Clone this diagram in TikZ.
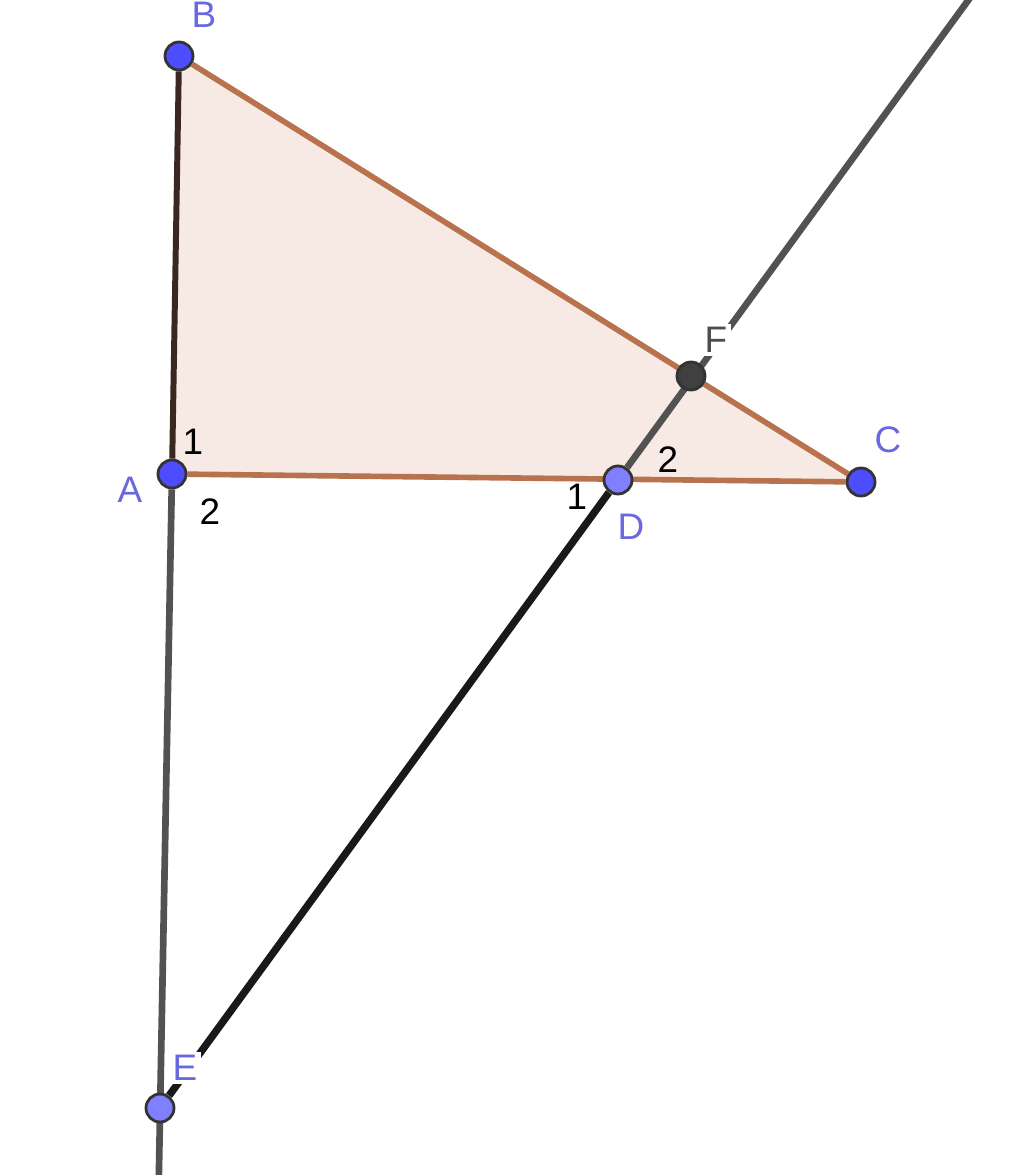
\documentclass[tikz,border=0pt]{standalone}
\usepackage{fontspec}
\setmainfont{Liberation Sans}
\usetikzlibrary{positioning}
\usetikzlibrary{backgrounds}

\begin{document}
\begin{tikzpicture}
\definecolor{pointcolor1}{HTML}{4D4DFF}
\definecolor{pointcolor2}{HTML}{8080FF}
\definecolor{labelcolor}{HTML}{6868E0}
\definecolor{edgecolor}{HTML}{B8724E}
\definecolor{fillcolor}{HTML}{F7E9E3}
\definecolor{sidecolor}{HTML}{3A2820}
\tikzstyle{vertex}=[circle, draw=black!80, line width=0.8pt, fill=pointcolor1, inner sep=0pt, minimum size=2.8mm]
\tikzstyle{light-vertex}=[vertex, fill=pointcolor2]
\tikzstyle{dark-vertex}=[vertex, fill=black!75]
\tikzstyle{point-label}=[labelcolor, fill=white, inner sep=1pt, font=\fontsize{10.5}{12}\selectfont]
\tikzstyle{angle-label}=[black, inner sep=0pt, font=\fontsize{10.5}{12}\selectfont]
\tikzstyle{tri-edge}=[edgecolor, line width=1.6pt]
\tikzstyle{side-edge}=[sidecolor, line width=1.7pt]
\tikzstyle{long-line}=[black!68, line width=1.9pt]
\tikzstyle{cut-line}=[black!90, line width=2.1pt]

\clip (0,0) rectangle (10.24,-11.75);

\node[vertex] (B) at (1.79,-0.56) {};
\node[vertex] (A) at (1.72,-4.74) {};
\node[vertex] (C) at (8.61,-4.82) {};
\node[light-vertex] (D) at (6.18,-4.80) {};
\node[dark-vertex] (F) at (6.91,-3.76) {};
\node[light-vertex] (E) at (1.60,-11.08) {};
\coordinate (Ftop) at (9.83,0.2);
\coordinate (Abot) at (1.585,-11.95);

\node[point-label] (Blabel) at (2.04,-0.15) {B};
\node[point-label] (Alabel) at (1.30,-4.90) {A};
\node[point-label] (Clabel) at (8.88,-4.40) {C};
\node[point-label] (Dlabel) at (6.31,-5.27) {D};
\node[point-label, text=black!70] (Flabel) at (7.16,-3.40) {F};
\node[point-label] (Elabel) at (1.85,-10.68) {E};

\node[angle-label] (A1) at (1.93,-4.42) {1};
\node[angle-label] (A2) at (2.10,-5.12) {2};
\node[angle-label] (D1) at (5.77,-4.97) {1};
\node[angle-label] (D2) at (6.68,-4.60) {2};

\begin{pgfonlayer}{background}
\fill[fillcolor] (A.center) -- (B.center) -- (C.center) -- cycle;
\draw[style=long-line] (A) -- (Abot);
\draw[style=long-line] (D) -- (Ftop);
\draw[style=cut-line] (E) -- (D);
\draw[style=tri-edge] (A) -- (C);
\draw[style=tri-edge] (B) -- (C);
\draw[style=side-edge] (A) -- (B);
\end{pgfonlayer}

\end{tikzpicture}
\end{document}
